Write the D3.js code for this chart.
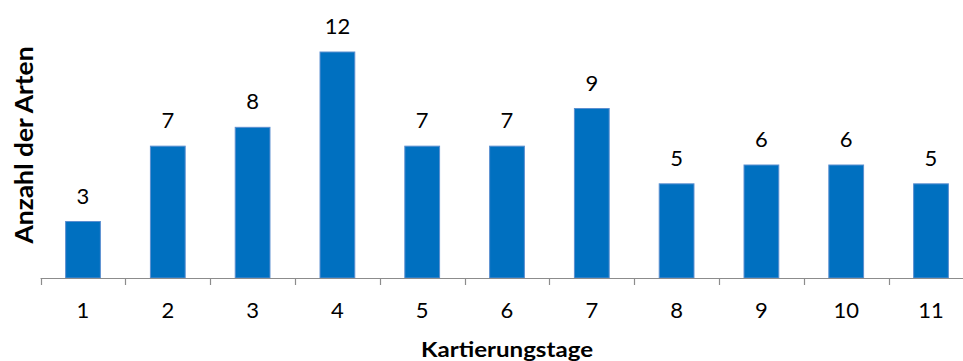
<!DOCTYPE html>
<html>
<head>
<meta charset="utf-8">
<script src="https://cdn.jsdelivr.net/npm/d3@7"></script>
<style>
  html, body { margin: 0; padding: 0; background: #fff; }
  svg { display: block; font-family: Lato, "Open Sans", sans-serif; }
</style>
</head>
<body>
<svg id="chart" width="963" height="361"></svg>
<script>
// Anzahl der Arten je Kartierungstag
const tage = ["1", "2", "3", "4", "5", "6", "7", "8", "9", "10", "11"];
const arten = [3, 7, 8, 12, 7, 7, 9, 5, 6, 6, 5];
const yMax = 12;

const svg = d3.select("#chart");
const baseY = 278;

const x = d3.scaleBand()
  .domain(tage)
  .range([40.6, 973.4])
  .paddingInner(0.59)
  .paddingOuter(0.295);

const y = d3.scaleLinear().domain([0, yMax]).range([baseY, 52]);

// Balken
svg.append("g").selectAll("rect")
  .data(arten)
  .join("rect")
  .attr("x", (d, i) => x(tage[i]))
  .attr("y", d => y(d))
  .attr("width", x.bandwidth())
  .attr("height", d => baseY - y(d))
  .attr("fill", "#0070c0")
  .attr("stroke", "#5b8fd0")
  .attr("stroke-width", 1);

// Wertbeschriftungen
svg.append("g").selectAll("text")
  .data(arten)
  .join("text")
  .attr("x", (d, i) => x(tage[i]) + x.bandwidth() / 2)
  .attr("y", d => y(d) - 18)
  .attr("text-anchor", "middle")
  .attr("font-size", 22)
  .attr("fill", "#000")
  .text(d => d);

// x-Achse mit Teilstrichen zwischen den Kategorien
const axisG = svg.append("g");
axisG.append("line")
  .attr("x1", x.range()[0]).attr("x2", 963)
  .attr("y1", baseY + 0.5).attr("y2", baseY + 0.5)
  .attr("stroke", "#8c8c8c").attr("stroke-width", 1.2);

const bounds = tage.map((t, i) => x.range()[0] + i * x.step()).concat([x.range()[1]]);
axisG.selectAll("line.tick")
  .data(bounds)
  .join("line")
  .attr("class", "tick")
  .attr("x1", d => Math.round(d) + 0.5).attr("x2", d => Math.round(d) + 0.5)
  .attr("y1", baseY).attr("y2", baseY + 7)
  .attr("stroke", "#8c8c8c").attr("stroke-width", 1.2);

axisG.selectAll("text")
  .data(tage)
  .join("text")
  .attr("x", d => x(d) + x.bandwidth() / 2)
  .attr("y", 318)
  .attr("text-anchor", "middle")
  .attr("font-size", 22)
  .attr("fill", "#000")
  .text(d => d);

// Achsentitel
svg.append("text")
  .attr("x", 507).attr("y", 357)
  .attr("text-anchor", "middle")
  .attr("font-size", 21)
  .attr("font-weight", "bold")
  .attr("textLength", 172)
  .attr("lengthAdjust", "spacingAndGlyphs")
  .text("Kartierungstage");

svg.append("text")
  .attr("transform", "translate(33,145) rotate(-90)")
  .attr("text-anchor", "middle")
  .attr("font-size", 24)
  .attr("font-weight", "bold")
  .attr("textLength", 197)
  .attr("lengthAdjust", "spacingAndGlyphs")
  .text("Anzahl der Arten");
</script>
</body>
</html>
